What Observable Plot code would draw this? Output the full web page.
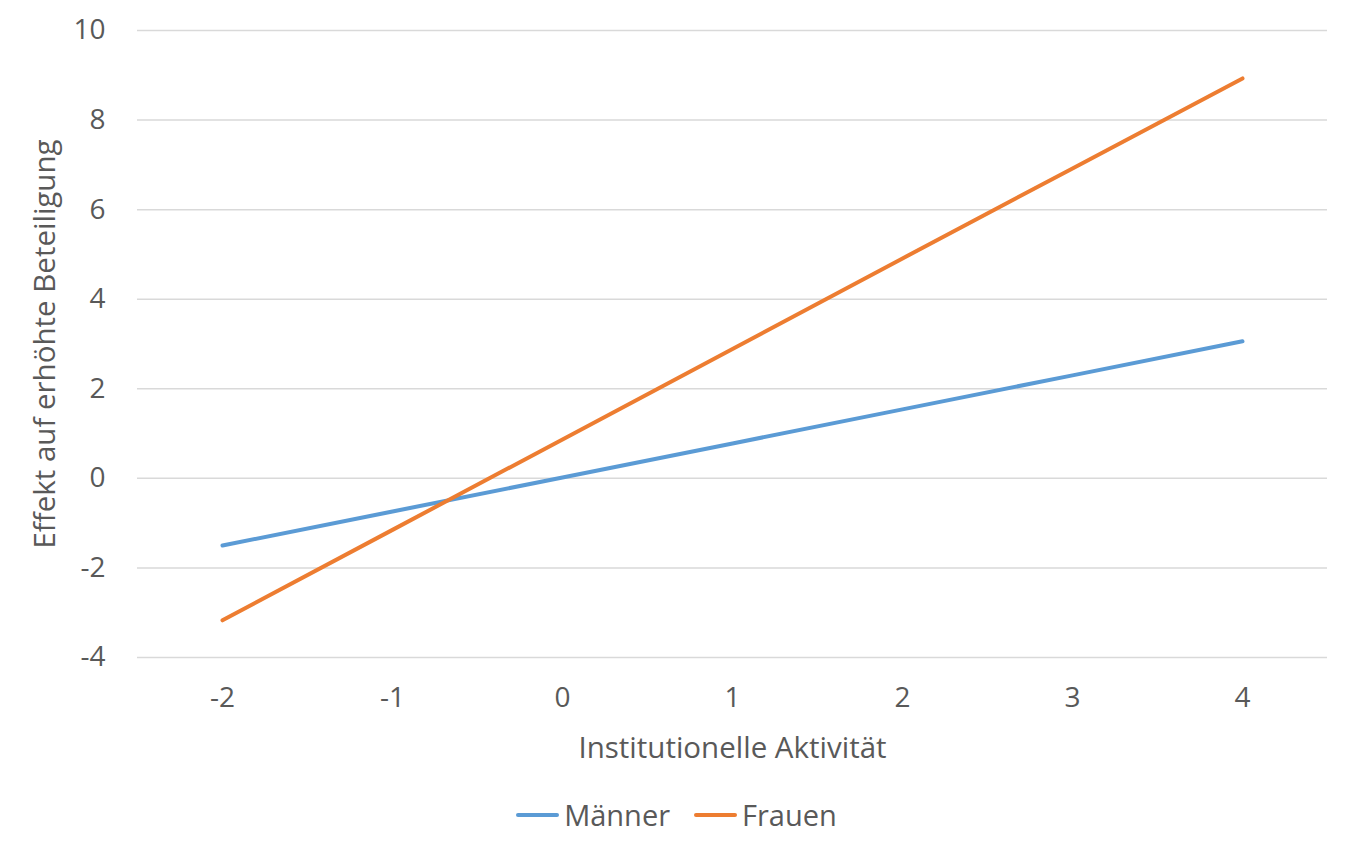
<!DOCTYPE html>
<html>
<head>
<meta charset="utf-8">
<script src="https://cdn.jsdelivr.net/npm/d3@7"></script>
<script src="https://cdn.jsdelivr.net/npm/@observablehq/plot@0.6"></script>
<style>
  html, body { margin: 0; padding: 0; background: #fff; }
  body { width: 1349px; height: 857px; overflow: hidden; font-family: "Open Sans", sans-serif; color: #595959; }
  #legend { display: flex; justify-content: center; align-items: center; gap: 24px; font-size: 29px; margin-top: 8px; padding-left: 4px; }
  .item { display: flex; align-items: center; gap: 5px; }
  .swatch { width: 43px; height: 4px; border-radius: 2px; }
</style>
</head>
<body>
<div id="chart"></div>
<div id="legend"></div>
<script>
const categories = [-2, -1, 0, 1, 2, 3, 4];
const maenner = [-1.50, -0.74, 0.02, 0.78, 1.54, 2.30, 3.06];
const frauen = [-3.17, -1.15, 0.87, 2.89, 4.91, 6.92, 8.93];
const seriesNames = ["Männer", "Frauen"];
const seriesColors = ["#5B9BD5", "#ED7D31"];
const yTicks = [-4, -2, 0, 2, 4, 6, 8, 10];

const rows = [];
[maenner, frauen].forEach((vals, s) => {
  vals.forEach((v, i) => rows.push({x: categories[i], y: v, series: seriesNames[s]}));
});

const chart = Plot.plot({
  width: 1349,
  height: 787,
  marginTop: 30,
  marginBottom: 130,
  marginLeft: 137,
  marginRight: 22,
  style: {fontFamily: "'Open Sans', sans-serif", fontSize: "28px", color: "#595959", background: "#fff"},
  x: {type: "point", domain: categories, padding: 0.5},
  y: {domain: [-4, 10]},
  color: {domain: seriesNames, range: seriesColors},
  marks: [
    Plot.gridY(yTicks, {stroke: "#d9d9d9", strokeOpacity: 1, strokeWidth: 1.5}),
    Plot.axisY(yTicks, {tickSize: 0, tickPadding: 32, tickFormat: d => String(d), label: null, fill: "#595959", fontSize: 28}),
    Plot.axisY([], {label: "Effekt auf erhöhte Beteiligung", labelAnchor: "center", labelOffset: 103, labelArrow: "none", fill: "#595959", fontSize: 29.5}),
    Plot.axisX(categories, {tickSize: 0, tickPadding: 30, tickFormat: d => String(d), label: null, fill: "#595959", fontSize: 28}),
    Plot.axisX([], {label: "Institutionelle Aktivität", labelAnchor: "center", labelOffset: 100, labelArrow: "none", fill: "#595959", fontSize: 29.5}),
    Plot.line(rows, {x: "x", y: "y", z: "series", stroke: "series", strokeWidth: 4, strokeLinecap: "round", strokeLinejoin: "round"})
  ]
});
document.getElementById("chart").appendChild(chart);

const legend = document.getElementById("legend");
seriesNames.forEach((name, i) => {
  const item = document.createElement("div");
  item.className = "item";
  const sw = document.createElement("span");
  sw.className = "swatch";
  sw.style.background = seriesColors[i];
  const label = document.createElement("span");
  label.textContent = name;
  item.appendChild(sw);
  item.appendChild(label);
  legend.appendChild(item);
});
</script>
</body>
</html>
